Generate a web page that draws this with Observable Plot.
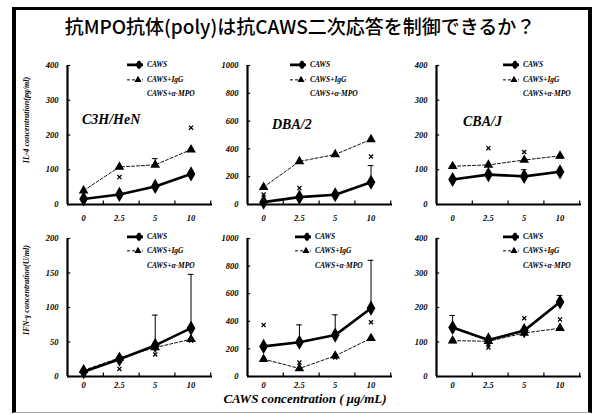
<!DOCTYPE html>
<html><head><meta charset="utf-8">
<script src="https://cdn.jsdelivr.net/npm/d3@7"></script>
<script src="https://cdn.jsdelivr.net/npm/@observablehq/plot@0.6"></script>
<style>
body{margin:0;background:#fff;}
#wrap{position:relative;width:600px;height:414px;overflow:hidden;background:#fff;font-family:"Liberation Serif",serif;}
#frame{position:absolute;left:12px;top:7px;width:580px;height:406px;box-sizing:border-box;border-left:4px solid #000;border-right:4px solid #000;border-top:3px solid #000;border-bottom:1px solid #aaa;}
#title{position:absolute;left:0;width:600px;top:15px;text-align:center;font-family:"Noto Sans CJK JP",sans-serif;font-size:19px;font-weight:500;line-height:22px;color:#000;}
.panel{position:absolute;}
.ytitle{position:absolute;font-weight:bold;font-style:italic;font-size:8px;white-space:nowrap;transform:translate(-50%,-50%) rotate(-90deg);}
#xtitle{position:absolute;left:305px;top:399px;transform:translate(-50%,-50%);font-weight:bold;font-style:italic;font-size:13px;white-space:nowrap;}
.plabel{position:absolute;font-weight:bold;font-style:italic;font-size:14px;white-space:nowrap;transform:translateY(-50%);}
.leg{position:absolute;font-weight:bold;font-style:italic;font-size:7.5px;white-space:nowrap;transform:translateY(-50%);line-height:8px;}
.leg svg{vertical-align:middle;margin-right:2px;}
</style></head>
<body><div id="wrap"><div id="frame"></div>
<div id="title">抗MPO抗体(poly)は抗CAWS二次応答を制御できるか？</div>
</div>
<script>
// ---- data ----
const xLabels = ["0", "2.5", "5", "10"];
const strains = ["C3H/HeN", "DBA/2", "CBA/J"];
const seriesNames = ["CAWS", "CAWS+IgG", "CAWS+α-MPO"];
const yTitles = ["IL-4 concentration(pg/ml)", "IFN-γ concentration(U/ml)"];
const xTitle = "CAWS concentration ( μg/mL)";

// IL-4 (top row)
const il4Max = [400, 1000, 400];
const il4Step = [100, 200, 100];
const il4Caws = [[16, 29, 52, 88], [17, 53, 70, 160], [72, 86, 81, 94]];
const il4CawsSd = [[null, null, null, null], [null, null, null, 120], [null, null, 19, null]];
const il4IgG = [[40, 108, 114, 158], [125, 310, 360, 468], [110, 114, 128, 140]];
const il4IgGSd = [[null, null, 18, null], [null, null, null, null], [null, null, null, null]];
const il4Mpo = [[null, 79, null, 221], [72, 118, null, 345], [108, 162, 151, 138]];

// IFN-gamma (bottom row)
const ifnMax = [200, 1000, 400];
const ifnStep = [50, 200, 100];
const ifnCaws = [[7, 25, 45, 70], [218, 248, 300, 495], [142, 106, 133, 216]];
const ifnCawsSd = [[null, null, 44, 78], [null, 126, 147, 347], [35, null, null, 19]];
const ifnIgG = [[9, 27, 42, 54], [126, 58, 150, 277], [104, 102, 126, 140]];
const ifnIgGSd = [[null, null, null, null], [null, null, null, null], [null, null, null, null]];
const ifnMpo = [[null, 11, 32, 52], [374, 101, 138, 393], [102, 84, 169, 165]];

// ---- layout ----
const wrap = document.getElementById("wrap");
const panelLeft = [29, 209, 398];
const rowTop = [50, 223];
const rowPlotH = [139, 138];
const rowTickPad = [10, 5];
const legendX = [[127, 290, 503], [127, 295, 503]];
const legendY = [[65, 80, 94], [237, 251, 266]];
const labelPos = [[82, 120], [272, 125], [463, 122]];
const X0 = -0.45, X1 = 3.6;

function makePanel(ymax, ystep, caws, cawsSd, igg, iggSd, mpo, plotH, tickPad) {
  const data = xLabels.map((lab, i) => ({i, caws: caws[i], cawsSd: cawsSd[i], igg: igg[i], iggSd: iggSd[i], mpo: mpo[i]}));
  const yticks = d3.range(0, ymax + 1, ystep);
  const errC = data.filter(d => d.cawsSd != null).map(d => ({i: d.i, y: d.caws, top: d.caws + d.cawsSd}));
  const errG = data.filter(d => d.iggSd != null).map(d => ({i: d.i, y: d.igg, top: d.igg + d.iggSd}));
  const errs = errC.concat(errG);
  const capW = 0.08;
  return Plot.plot({
    width: 190, height: 15 + plotH + 22,
    marginLeft: 38, marginRight: 7, marginTop: 15, marginBottom: 22,
    x: {domain: [X0, X1], axis: null},
    y: {domain: [0, ymax], axis: null},
    style: {fontFamily: "'Liberation Serif', serif", fontSize: "8.5px", fontWeight: "bold", fontStyle: "italic", background: "transparent", color: "#000", overflow: "visible"},
    marks: [
      Plot.axisY(yticks, {tickSize: 0, tickPadding: 9, tickFormat: d => String(d), label: null}),
      Plot.axisX(d3.range(xLabels.length), {tickSize: 0, tickPadding: tickPad, tickFormat: i => xLabels[i], label: null}),
      Plot.ruleY(yticks, {x1: X0, x2: X0 + 0.09, y: d => d, strokeWidth: 1.2}),
      Plot.ruleX([0.55, 1.55, 2.55, 3.55], {y1: 0, y2: ymax * 0.025, strokeWidth: 1.2}),
      Plot.ruleX([X0], {y1: 0, y2: ymax, strokeWidth: 2.2}),
      Plot.ruleY([0], {strokeWidth: 2.2}),
      Plot.ruleX(errs, {x: "i", y1: "y", y2: "top", strokeWidth: 1}),
      Plot.ruleY(errs, {y: "top", x1: d => d.i - capW, x2: d => d.i + capW, strokeWidth: 1}),
      Plot.line(data, {x: "i", y: "igg", stroke: "#111", strokeWidth: 1, strokeDasharray: "3,2"}),
      Plot.dot(data, {x: "i", y: "igg", symbol: "triangle", fill: "#000", r: 3.6}),
      Plot.line(data, {x: "i", y: "caws", stroke: "#000", strokeWidth: 2.6}),
      Plot.dot(data, {x: "i", y: "caws", symbol: "diamond", fill: "#000", r: 4.6}),
      Plot.dot(data.filter(d => d.mpo != null), {x: "i", y: "mpo", symbol: "times", stroke: "#000", strokeWidth: 1.3, r: 2})
    ]
  });
}

function legendSample(kind) {
  const s = d3.create("svg").attr("width", 18).attr("height", 8);
  if (kind === 0) {
    s.append("line").attr("x1", 0).attr("x2", 16).attr("y1", 4).attr("y2", 4).attr("stroke", "#000").attr("stroke-width", 2.6);
    s.append("path").attr("d", d3.symbol(d3.symbolDiamond, 40)()).attr("transform", "translate(12,4)").attr("fill", "#000");
  } else if (kind === 1) {
    s.append("line").attr("x1", 0).attr("x2", 16).attr("y1", 4).attr("y2", 4).attr("stroke", "#000").attr("stroke-width", 1).attr("stroke-dasharray", "3,2");
    s.append("path").attr("d", d3.symbol(d3.symbolTriangle, 22)()).attr("transform", "translate(11,4)").attr("fill", "#000");
  }
  return s.node();
}

const rows = [
  {max: il4Max, step: il4Step, caws: il4Caws, cawsSd: il4CawsSd, igg: il4IgG, iggSd: il4IgGSd, mpo: il4Mpo},
  {max: ifnMax, step: ifnStep, caws: ifnCaws, cawsSd: ifnCawsSd, igg: ifnIgG, iggSd: ifnIgGSd, mpo: ifnMpo}
];

rows.forEach((r, ri) => {
  strains.forEach((st, ci) => {
    const svg = makePanel(r.max[ci], r.step[ci], r.caws[ci], r.cawsSd[ci], r.igg[ci], r.iggSd[ci], r.mpo[ci], rowPlotH[ri], rowTickPad[ri]);
    svg.classList.add("panel");
    svg.style.left = panelLeft[ci] + "px";
    svg.style.top = rowTop[ri] + "px";
    wrap.appendChild(svg);
    seriesNames.forEach((nm, k) => {
      const div = document.createElement("div");
      div.className = "leg";
      div.style.left = legendX[ri][ci] + "px";
      div.style.top = legendY[ri][k] + "px";
      if (k < 2) div.appendChild(legendSample(k));
      else { const sp = document.createElement("span"); sp.style.display = "inline-block"; sp.style.width = "20px"; div.appendChild(sp); }
      div.appendChild(document.createTextNode(nm));
      wrap.appendChild(div);
    });
  });
});

strains.forEach((st, ci) => {
  const d = document.createElement("div");
  d.className = "plabel";
  d.style.left = labelPos[ci][0] + "px";
  d.style.top = labelPos[ci][1] + "px";
  d.textContent = st;
  wrap.appendChild(d);
});

yTitles.forEach((t, ri) => {
  const d = document.createElement("div");
  d.className = "ytitle";
  d.style.left = "26px";
  d.style.top = (ri === 0 ? 120 : 290) + "px";
  d.textContent = t;
  wrap.appendChild(d);
});
const xt = document.createElement("div");
xt.id = "xtitle";
xt.textContent = xTitle;
wrap.appendChild(xt);
</script>
</body></html>
